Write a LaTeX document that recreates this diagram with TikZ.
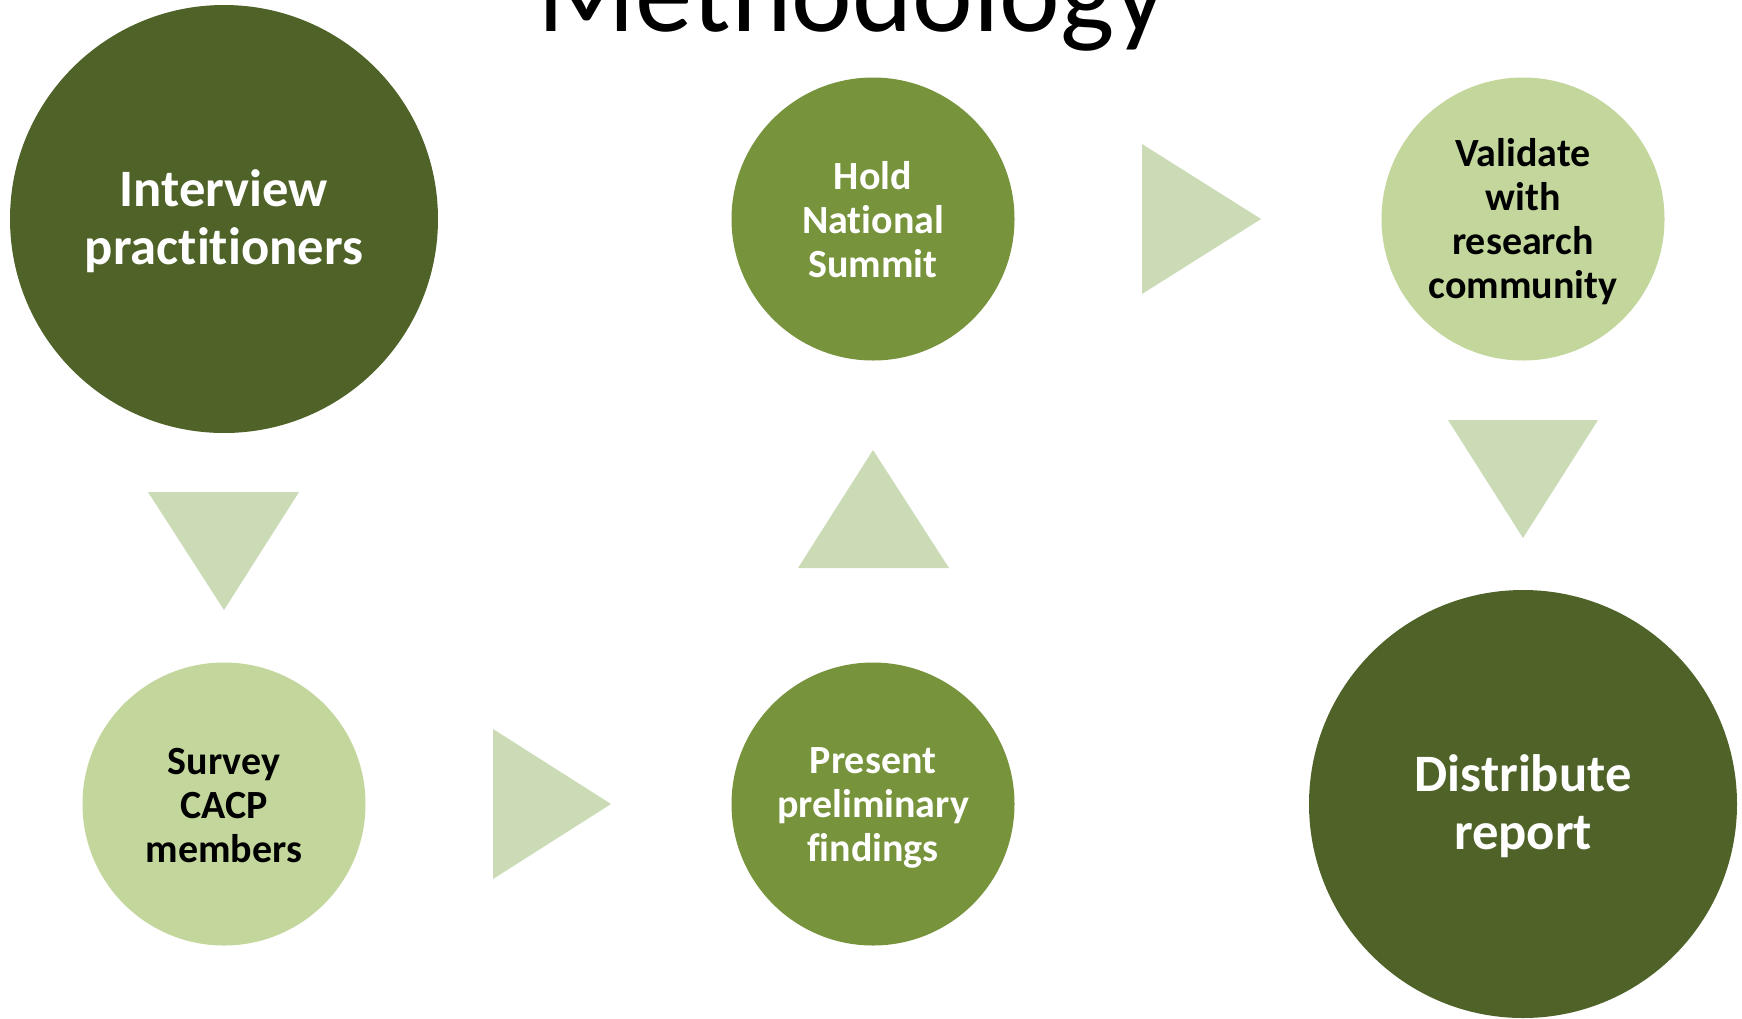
\documentclass[tikz,border=0pt]{standalone}
\usepackage{fontspec}
\setmainfont{Carlito}[RawFeature={-liga;-clig;-dlig;-calt}]
\definecolor{darkol}{HTML}{4F6228}
\definecolor{midol}{HTML}{77933C}
\definecolor{lightol}{HTML}{C3D69B}
\definecolor{triol}{HTML}{CBDBB6}
\tikzset{
  bigc/.style={circle,fill=darkol,draw=none,minimum size=428pt,inner sep=0pt},
  midc/.style={circle,fill=midol,draw=none,minimum size=283pt,inner sep=0pt},
  lightc/.style={circle,fill=lightol,draw=none,minimum size=283pt,inner sep=0pt},
  bigtext/.style={text=white,align=center,font=\bfseries\fontsize{52.6}{58}\selectfont},
  midtext/.style={text=white,align=center,font=\bfseries\fontsize{40}{44}\selectfont},
  lighttext/.style={text=black,align=center,font=\bfseries\fontsize{40}{44}\selectfont},
  tri/.style={fill=triol,draw=none}
}
\begin{document}
\begin{tikzpicture}[x=1pt,y=-1pt]
\useasboundingbox (0,0) rectangle (1742,1018);
\clip (0,0) rectangle (1742,1018);
\fill[white] (0,0) rectangle (1742,1018);
% title
\node[anchor=base,inner sep=0pt,font=\fontsize{115}{138}\selectfont] (title) at (852,31) {Methodology};
% circles
\node[bigc] (interview) at (224,219) {};
\node[bigtext] (interviewtxt) at ([yshift=-2pt]interview.center) {Interview\\practitioners};
\node[lightc] (survey) at (224,804) {};
\node[lighttext] (surveytxt) at ([yshift=-2pt]survey.center) {Survey\\CACP\\members};
\node[midc] (present) at (873,804) {};
\node[midtext] (presenttxt) at ([yshift=-4pt]present.center) {Present\\preliminary\\findings};
\node[midc] (summit) at (873,219) {};
\node[midtext] (summittxt) at ([yshift=-1pt]summit.center) {Hold\\National\\Summit};
\node[lightc] (validate) at (1523,219) {};
\node[lighttext] (validatetxt) at ([yshift=-3pt]validate.center) {Validate\\with\\research\\community};
\node[bigc] (distribute) at (1523,804) {};
\node[bigtext] (distributetxt) at ([yshift=-2pt]distribute.center) {Distribute\\report};
% triangles
\fill[tri] (148,492) -- (299,492) -- (224,610) -- cycle;
\fill[tri] (493,729) -- (611,804) -- (493,879) -- cycle;
\fill[tri] (798,568) -- (949,568) -- (873,450) -- cycle;
\fill[tri] (1142,144) -- (1261,219) -- (1142,294) -- cycle;
\fill[tri] (1448,420) -- (1598,420) -- (1523,538) -- cycle;
\end{tikzpicture}
\end{document}
